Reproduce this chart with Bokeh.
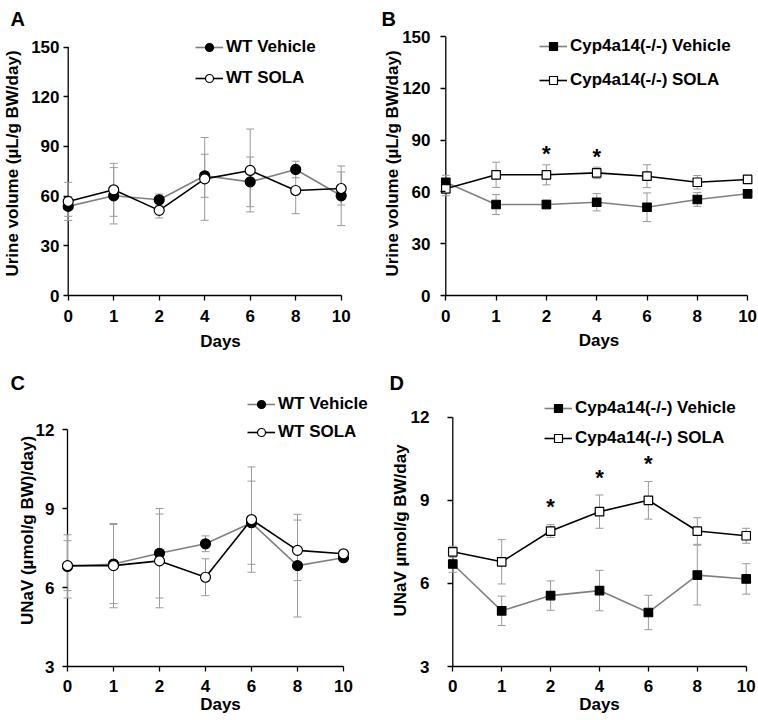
from bokeh.plotting import figure
from bokeh.models import (Range1d, FixedTicker, Legend, LegendItem, Whisker,
                          ColumnDataSource, TeeHead)
from bokeh.layouts import column, row
from bokeh.embed import file_html
from bokeh.resources import INLINE
from bokeh.core.properties import value

FONT = "Liberation Sans"

# ---------------- data ----------------
days = [0, 1, 2, 4, 6, 8, 10]

a_labels = ["WT Vehicle", "WT SOLA"]
a_veh = [53.8, 60.2, 57.8, 72.3, 68.6, 76.1, 60.2]
a_veh_err = [6.0, 17.0, 3.4, 13.0, 15.0, 5.0, 18.0]
a_sola = [56.8, 63.8, 51.4, 70.4, 75.5, 63.4, 64.6]
a_sola_err = [11.5, 16.0, 4.6, 25.0, 25.0, 14.0, 10.0]

b_labels = ["Cyp4a14(-/-) Vehicle", "Cyp4a14(-/-) SOLA"]
b_veh = [65.6, 52.7, 52.7, 54.0, 51.1, 55.6, 58.9]
b_veh_err = [4.0, 5.8, 2.5, 5.0, 8.3, 4.0, 1.5]
b_sola = [61.8, 69.9, 69.9, 71.0, 69.1, 65.6, 67.2]
b_sola_err = [4.0, 7.3, 5.8, 3.3, 6.6, 3.9, 1.5]
b_stars = [2, 4]

c_labels = ["WT Vehicle", "WT SOLA"]
c_veh = [6.80, 6.89, 7.30, 7.66, 8.46, 6.83, 7.13]
c_veh_err = [1.2, 1.5, 1.7, 0.3, 1.58, 1.95, 0.1]
c_sola = [6.83, 6.83, 7.01, 6.39, 8.58, 7.41, 7.28]
c_sola_err = [0.95, 1.6, 1.78, 0.7, 2.0, 1.15, 0.1]

d_labels = ["Cyp4a14(-/-) Vehicle", "Cyp4a14(-/-) SOLA"]
d_veh = [6.70, 5.01, 5.56, 5.74, 4.95, 6.30, 6.16]
d_veh_err = [0.3, 0.53, 0.53, 0.73, 0.62, 1.08, 0.55]
d_sola = [7.14, 6.78, 7.89, 8.59, 9.00, 7.89, 7.72]
d_sola_err = [0.2, 0.8, 0.23, 0.6, 0.68, 0.48, 0.27]
d_stars = [2, 4, 6]

urine_ticks = [0, 30, 60, 90, 120, 150]
unav_ticks = [3, 6, 9, 12]

VEH_LINE = "#808080"
ERR = "#9a9a9a"
W, H = 379, 360


def style_text(obj, prefix):
    setattr(obj, prefix + "_text_font", FONT)
    setattr(obj, prefix + "_text_font_size", "17px")
    setattr(obj, prefix + "_text_font_style", "bold")
    setattr(obj, prefix + "_text_color", "black")


def panel(letter, geo, xstd, yticks, ylabel, veh, veh_err, sola, sola_err, marker, msize,
          labels, leg, title_geo, stars=None, star_off=0):
    day0, ppu, bl, bt, bb, ytop_px, tick_std, lab_std = geo
    x_tick_std, x_lab_std = xstd
    n = len(days)
    xs = list(range(n))
    frame_bottom = H - bb
    x_start = (bl - day0) / ppu
    x_end = (W - day0) / ppu
    ppu_y = (frame_bottom - ytop_px) / (yticks[-1] - yticks[0])
    y_end = yticks[-1] + (ytop_px - bt) / ppu_y

    p = figure(width=W, height=H, x_range=Range1d(x_start, x_end),
               y_range=Range1d(yticks[0], y_end), output_backend="svg",
               toolbar_location=None, min_border_left=bl, min_border_right=0,
               min_border_top=bt, min_border_bottom=bb, tools="")
    p.outline_line_color = None
    p.grid.visible = False
    p.background_fill_color = "white"
    p.border_fill_color = "white"

    for ax in (p.xaxis[0], p.yaxis[0]):
        ax.axis_line_width = 1.3
        ax.axis_line_color = "black"
        ax.major_tick_line_color = "black"
        ax.major_tick_line_width = 1.3
        ax.minor_tick_line_color = None
        style_text(ax, "major_label")
        style_text(ax, "axis_label")
    xa = p.xaxis[0]
    xa.ticker = FixedTicker(ticks=xs)
    xa.major_label_overrides = {i: str(d) for i, d in enumerate(days)}
    xa.bounds = (0, n - 1)
    xa.axis_label = "Days"
    xa.major_tick_in = 0
    xa.major_tick_out = 5
    xa.major_label_standoff = x_tick_std
    xa.axis_label_standoff = x_lab_std

    # y axis: ticks/labels from the axis, its line drawn at day 0
    ya = p.yaxis[0]
    ya.ticker = FixedTicker(ticks=yticks)
    ya.axis_line_color = None
    off = int(round(day0 - bl))
    ya.major_tick_in = off
    ya.major_tick_out = 5 - off
    ya.major_label_standoff = tick_std
    ya.axis_label = ylabel
    ya.axis_label_standoff = lab_std
    p.segment(x0=[0], y0=[yticks[0]], x1=[0], y1=[yticks[-1]], line_color="black",
              line_width=1.3, level="underlay")

    src_v = ColumnDataSource(dict(x=xs, y=veh,
                                  lo=[a - b for a, b in zip(veh, veh_err)],
                                  hi=[a + b for a, b in zip(veh, veh_err)]))
    src_s = ColumnDataSource(dict(x=xs, y=sola,
                                  lo=[a - b for a, b in zip(sola, sola_err)],
                                  hi=[a + b for a, b in zip(sola, sola_err)]))
    for src in (src_v, src_s):
        p.add_layout(Whisker(base="x", upper="hi", lower="lo", source=src,
                             line_color=ERR, line_width=1,
                             upper_head=TeeHead(size=8, line_color=ERR, line_width=1),
                             lower_head=TeeHead(size=8, line_color=ERR, line_width=1)))

    lv = p.line("x", "y", source=src_v, line_color=VEH_LINE, line_width=1.6)
    mv = p.scatter("x", "y", source=src_v, marker=marker, size=msize,
                   fill_color="black", line_color="black", line_width=1.2)
    ls = p.line("x", "y", source=src_s, line_color="black", line_width=1.6)
    ms = p.scatter("x", "y", source=src_s, marker=marker, size=msize,
                   fill_color="white", line_color="black", line_width=1.2)

    if stars:
        sx = [days.index(d) for d in stars]
        sy = [sola[i] + sola_err[i] for i in sx]
        p.text(x=sx, y=sy, text=["*"] * len(sx), text_font=value(FONT),
               text_font_style="bold", text_font_size="22px", text_align="center",
               text_baseline="alphabetic", y_offset=star_off, text_color="black")

    leg_left, leg_center, leg_spacing = leg
    leg_h = 20 * 2 + leg_spacing
    leg_top = leg_center - 10
    legend = Legend(items=[LegendItem(label=labels[0], renderers=[lv, mv]),
                           LegendItem(label=labels[1], renderers=[ls, ms])],
                    location=(leg_left - bl, frame_bottom - leg_top - leg_h),
                    glyph_width=28, glyph_height=20, label_height=20,
                    label_standoff=3, spacing=leg_spacing, padding=0, margin=0,
                    border_line_color=None, background_fill_alpha=0)
    style_text(legend, "label")
    p.add_layout(legend)

    lx, valign, std = title_geo
    p.title.text = letter
    p.title.align = "left"
    p.title.offset = lx - bl
    p.title.vertical_align = valign
    p.title.standoff = std
    p.title.text_font = FONT
    p.title.text_font_size = "20px"
    p.title.text_font_style = "bold"
    p.title.text_color = "black"
    return p


# geo: day0_px, px_per_index, frame_left, frame_top, bottom_border, top_tick_px,
#      y tick-label standoff, y axis-label standoff
pA = panel("A", (67.7, 45.5, 61, 30, 63, 45.7, 2, 6), (9, 7), urine_ticks,
           "Urine volume (µL/g BW/day)", a_veh, a_veh_err, a_sola, a_sola_err,
           "circle", 10, a_labels, (195, 49, 11), (10, "top", 0))
pB = panel("B", (66.3, 50.3, 60, 31, 65, 36, 9, -3), (9, 6), urine_ticks,
           "Urine volume (µL/g BW/day)", b_veh, b_veh_err, b_sola, b_sola_err,
           "square", 8.5, b_labels, (160, 45.7, 14), (2, "top", 0),
           stars=b_stars, star_off=-11)
pC = panel("C", (67, 46, 61, 34, 54, 69, 7, -4), (8, 0), unav_ticks,
           "UNaV (µmol/g BW)/day)", c_veh, c_veh_err, c_sola, c_sola_err,
           "circle", 10, c_labels, (247, 44, 8), (10, "bottom", 2))
pD = panel("D", (73.3, 48.9, 61, 34, 54, 56.7, 11, -2), (8, 0), unav_ticks,
           "UNaV µmol/g BW/day", d_veh, d_veh_err, d_sola, d_sola_err,
           "square", 8.5, d_labels, (165, 48.3, 10), (10, "bottom", 2),
           stars=d_stars, star_off=-18)

layout = column(row(pA, pB), row(pC, pD))
open("out.html", "w").write(file_html(layout, INLINE))
